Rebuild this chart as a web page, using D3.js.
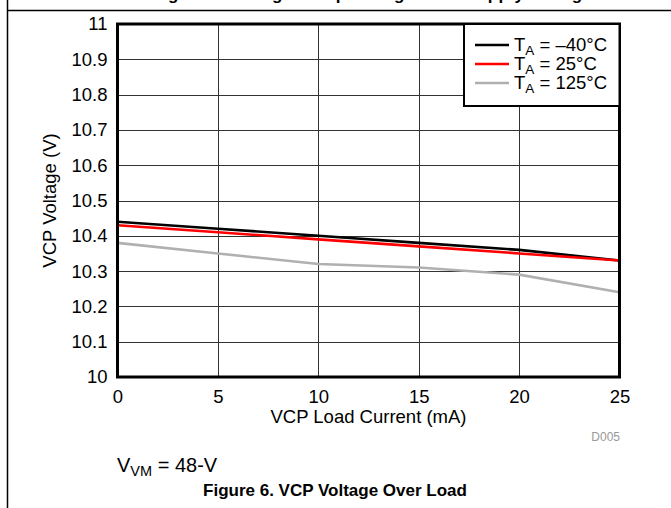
<!DOCTYPE html>
<html><head><meta charset="utf-8">
<script src="https://cdn.jsdelivr.net/npm/d3@7"></script>
<style>body{margin:0;background:#fff}svg{display:block;font-family:"Liberation Sans",Arial,sans-serif}</style>
</head><body>
<script>
const loadCurrent = [0, 5, 10, 15, 20, 25];
const vcpMinus40 = [10.44, 10.42, 10.40, 10.38, 10.36, 10.33];
const vcp25 = [10.43, 10.41, 10.39, 10.37, 10.35, 10.33];
const vcp125 = [10.38, 10.35, 10.32, 10.31, 10.29, 10.24];
const seriesNames = ["\u201340\u00B0C", "25\u00B0C", "125\u00B0C"];
const seriesColors = ["#000000", "#ff0000", "#b0b0b0"];
const xTicks = [0, 5, 10, 15, 20, 25];
const yTicks = [10, 10.1, 10.2, 10.3, 10.4, 10.5, 10.6, 10.7, 10.8, 10.9, 11];

const W = 671, H = 508;
const svg = d3.select("body").append("svg").attr("width", W).attr("height", H);
const L = 117.5, R = 619.5, T = 24, B = 377;
const x = d3.scaleLinear().domain([0, 25]).range([L, R]);
const y = d3.scaleLinear().domain([10, 11]).range([B, T]);
const FS = 18.5;

// page decorations
svg.append("line").attr("x1", 7.5).attr("x2", 7.5).attr("y1", 0).attr("y2", H).attr("stroke", "#000").attr("stroke-width", 1.5);
svg.append("line").attr("x1", 7).attr("x2", W).attr("y1", 10.5).attr("y2", 10.5).attr("stroke", "#000").attr("stroke-width", 1.5);
svg.append("text").attr("x", 372).attr("y", 0).attr("text-anchor", "middle")
  .attr("font-size", 17).attr("font-weight", "bold").attr("textLength", 440)
  .text("Figure 5. Charge Pump Voltage Over Supply Voltage");

// grid
const g = svg.append("g");
g.selectAll(".gx").data(xTicks.slice(1, -1)).join("line")
  .attr("x1", d => Math.round(x(d)) + 0.5).attr("x2", d => Math.round(x(d)) + 0.5)
  .attr("y1", T).attr("y2", B).attr("stroke", "#333").attr("stroke-width", 1);
g.selectAll(".gy").data(yTicks.slice(1, -1)).join("line")
  .attr("y1", d => Math.round(y(d)) + 0.5).attr("y2", d => Math.round(y(d)) + 0.5)
  .attr("x1", L).attr("x2", R).attr("stroke", "#333").attr("stroke-width", 1);

// axes (labels only)
const xAxis = svg.append("g").attr("transform", `translate(0,${B})`)
  .call(d3.axisBottom(x).tickValues(xTicks).tickSize(0).tickPadding(13).tickFormat(d3.format("d")));
xAxis.select(".domain").remove();
xAxis.selectAll("text").attr("font-size", FS).attr("font-family", "Liberation Sans, Arial, sans-serif").attr("fill", "#000");
const yAxis = svg.append("g").attr("transform", `translate(${L},0)`)
  .call(d3.axisLeft(y).tickValues(yTicks).tickSize(0).tickPadding(10).tickFormat(d => d3.format("")(+d.toFixed(1))));
yAxis.select(".domain").remove();
yAxis.selectAll("text").attr("font-size", FS).attr("font-family", "Liberation Sans, Arial, sans-serif").attr("fill", "#000");

// lines
const allSeries = [vcpMinus40, vcp25, vcp125];
const line = d3.line().x((d, i) => x(loadCurrent[i])).y(d => y(d));
const order = [2, 0, 1];
order.forEach(k => {
  svg.append("path").datum(allSeries[k]).attr("d", line).attr("fill", "none")
    .attr("stroke", seriesColors[k]).attr("stroke-width", 2.6);
});

// frame
svg.append("rect").attr("x", L).attr("y", T).attr("width", R - L).attr("height", B - T)
  .attr("fill", "none").attr("stroke", "#000").attr("stroke-width", 3);

// legend
const lg = svg.append("g");
lg.append("rect").attr("x", 464).attr("y", T).attr("width", R - 464).attr("height", 82)
  .attr("fill", "#fff").attr("stroke", "#000").attr("stroke-width", 2);
seriesNames.forEach((n, i) => {
  const yy = 45 + i * 19;
  lg.append("line").attr("x1", 475).attr("x2", 509).attr("y1", yy).attr("y2", yy)
    .attr("stroke", seriesColors[i]).attr("stroke-width", 2.6);
  const t = lg.append("text").attr("x", 514).attr("y", yy + 6).attr("font-size", 18.5);
  t.append("tspan").text("T");
  t.append("tspan").attr("font-size", 13.5).attr("dy", 4).text("A");
  t.append("tspan").attr("dy", -4).text(" = " + n);
});

// axis titles
svg.append("text").attr("x", (L + R) / 2).attr("y", 423).attr("text-anchor", "middle").attr("font-size", FS)
  .text("VCP Load Current (mA)");
svg.append("text").attr("transform", `translate(56,${(T + B) / 2}) rotate(-90)`).attr("text-anchor", "middle")
  .attr("font-size", FS).text("VCP Voltage (V)");
svg.append("text").attr("x", 620).attr("y", 441).attr("text-anchor", "end").attr("font-size", 12).attr("fill", "#999")
  .text("D005");

// note
const nt = svg.append("text").attr("x", 117).attr("y", 472).attr("font-size", 20);
nt.append("tspan").text("V");
nt.append("tspan").attr("font-size", 14.5).attr("dy", 4).text("VM");
nt.append("tspan").attr("dy", -4).text(" = 48-V");

// caption
svg.append("text").attr("x", 335).attr("y", 496).attr("text-anchor", "middle").attr("font-size", 17)
  .attr("font-weight", "bold").text("Figure 6. VCP Voltage Over Load");
</script>
</body></html>
